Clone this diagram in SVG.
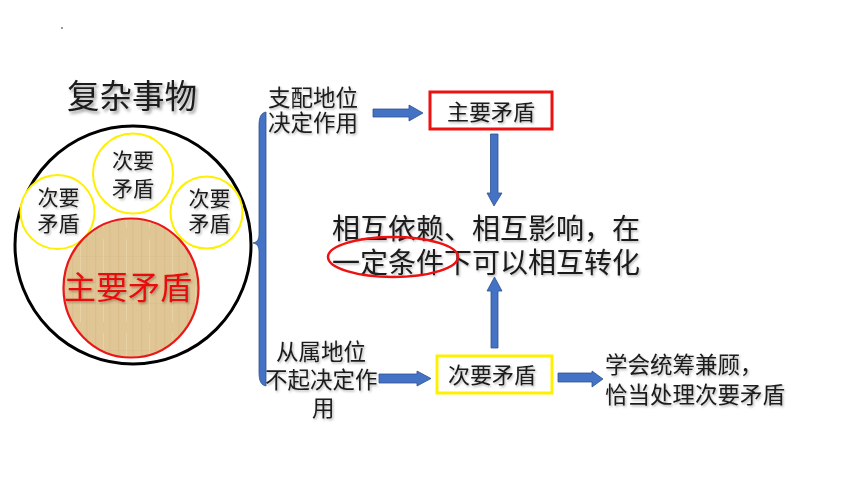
<svg xmlns="http://www.w3.org/2000/svg" width="860" height="484" viewBox="0 0 860 484">
<style>
  text { font-family: "Noto Sans CJK SC", "Noto Sans", sans-serif; fill: #1a1a1a; }
  .sm { font-size: 21px; text-anchor: middle; }
  .lbl { font-size: 22.5px; }
  .box { font-size: 22px; text-anchor: middle; }
  .main { font-size: 28px; }
  .arrow { fill: #4472C4; stroke: #2F528F; stroke-width: 0.8; }
  .yc { fill: #ffffff; stroke: #FFF000; stroke-width: 2; }
</style>
<defs>
  <filter id="sh" x="-10%" y="-20%" width="130%" height="150%">
    <feDropShadow dx="1.2" dy="1.5" stdDeviation="1" flood-color="#000" flood-opacity="0.3"/>
  </filter>
  <filter id="shT" x="-10%" y="-20%" width="130%" height="150%">
    <feDropShadow dx="2" dy="2.5" stdDeviation="1.5" flood-color="#000" flood-opacity="0.4"/>
  </filter>
  <pattern id="pap" width="23" height="47" patternUnits="userSpaceOnUse">
    <rect width="23" height="47" fill="#E0C595"/>
    <rect x="3" width="1.2" height="47" fill="#CFB07F" opacity="0.35"/>
    <rect x="11" y="4" width="1" height="36" fill="#EEDAB2" opacity="0.55"/>
    <rect x="17" width="1.5" height="47" fill="#D3B586" opacity="0.3"/>
    <rect y="21" width="23" height="1" fill="#D4B584" opacity="0.25"/>
  </pattern>
</defs>
<rect width="860" height="484" fill="#ffffff"/>
<rect x="61" y="27" width="2" height="2" fill="#9a9a9a"/>

<g id="title">
  <text x="67" y="108" style="font-size:32.5px" filter="url(#shT)">复杂事物</text>
</g>

<g id="outer-circle">
  <ellipse cx="133" cy="245" rx="118" ry="119" fill="#ffffff" stroke="#000" stroke-width="3"/>
</g>
<g id="minor-top">
  <circle class="yc" cx="133" cy="173.5" r="40"/>
  <text class="sm" filter="url(#sh)"><tspan x="133" y="168">次要</tspan><tspan x="133" y="196">矛盾</tspan></text>
</g>
<g id="minor-left">
  <circle class="yc" cx="57.5" cy="212" r="37"/>
  <text class="sm" filter="url(#sh)"><tspan x="58.5" y="205">次要</tspan><tspan x="58.5" y="231">矛盾</tspan></text>
</g>
<g id="minor-right">
  <circle class="yc" cx="206.5" cy="212.5" r="36"/>
  <text class="sm" filter="url(#sh)"><tspan x="209.5" y="206">次要</tspan><tspan x="209.5" y="231">矛盾</tspan></text>
</g>
<g id="main-circle">
  <ellipse cx="131" cy="288" rx="67.5" ry="69.5" fill="url(#pap)" stroke="#E81818" stroke-width="2.2"/>
  <text x="128" y="299" style="font-size:32px;fill:#E81010;text-anchor:middle" filter="url(#sh)">主要矛盾</text>
</g>

<g id="brace">
  <path d="M 266 112 C 261 113 259 117 259 126 L 259 234 C 259 240 257 242 253 243 C 257 244 259 246 259 252 L 259 372 C 259 381 261 385 266 386 Z" fill="#4472C4" stroke="#2F528F" stroke-width="0.8"/>
</g>

<g id="dominant-label">
  <text class="lbl" filter="url(#sh)"><tspan x="268" y="106">支配地位</tspan><tspan x="268" y="131">决定作用</tspan></text>
</g>
<g id="main-box">
  <rect x="430" y="92" width="122" height="37" fill="#ffffff" stroke="#EE1111" stroke-width="3"/>
  <text class="box" x="491" y="120" filter="url(#sh)">主要矛盾</text>
</g>
<g id="center-text">
  <text class="main" filter="url(#sh)"><tspan x="332" y="239">相互依赖、相互影响，在</tspan><tspan x="332" y="273">一定条件下可以相互转化</tspan></text>
  <ellipse cx="393" cy="257" rx="65" ry="20" fill="none" stroke="#EE1111" stroke-width="2.5"/>
</g>
<g id="subordinate-label">
  <text class="lbl" filter="url(#sh)"><tspan x="276" y="360">从属地位</tspan><tspan x="265" y="388">不起决定作</tspan><tspan x="312" y="416">用</tspan></text>
</g>
<g id="minor-box">
  <rect x="437" y="356" width="115" height="37" fill="#ffffff" stroke="#FFF000" stroke-width="3"/>
  <text class="box" x="492" y="383" filter="url(#sh)">次要矛盾</text>
</g>
<g id="advice">
  <text class="lbl" filter="url(#sh)"><tspan x="605" y="373">学会统筹兼顾，</tspan><tspan x="605" y="403">恰当处理次要矛盾</tspan></text>
</g>

<g id="connectors">
  <polygon class="arrow" points="373,109 409,109 409,105 423,113 409,121 409,117 373,117"/>
  <polygon class="arrow" points="490.5,134 498,134 498,193 502,193 494,206 487,193 490.5,193"/>
  <polygon class="arrow" points="491,348 498,348 498,291 502,291 494.5,277 487,291 491,291"/>
  <polygon class="arrow" points="379,374 417,374 417,371 431,378.5 417,386 417,383 379,383"/>
  <polygon class="arrow" points="558,373 592,373 592,371 603,379 592,387 592,382 558,382"/>
</g>
</svg>
